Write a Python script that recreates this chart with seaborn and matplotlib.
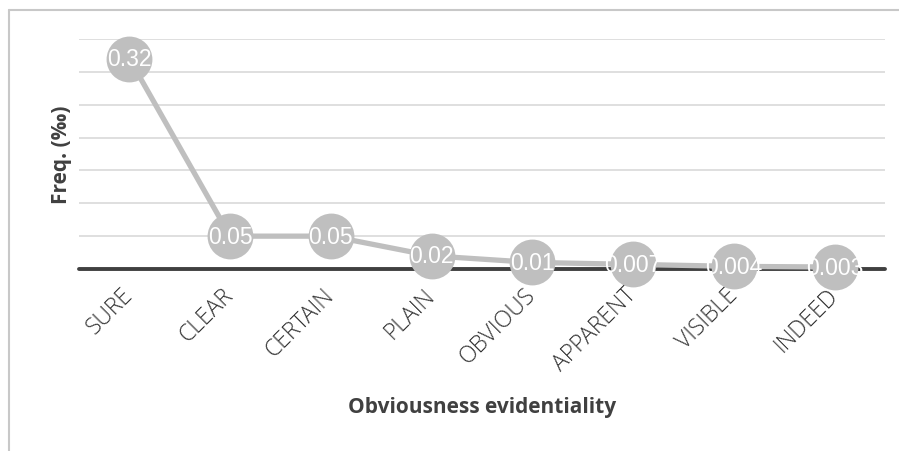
import matplotlib
matplotlib.use("Agg")
import matplotlib.pyplot as plt
import seaborn as sns
import pandas as pd

# Relative frequency (per mille) of each obviousness evidential
categories = ["SURE", "CLEAR", "CERTAIN", "PLAIN", "OBVIOUS", "APPARENT", "VISIBLE", "INDEED"]
freq = [0.32, 0.05, 0.05, 0.02, 0.01, 0.007, 0.004, 0.003]
freq_labels = ["0.32", "0.05", "0.05", "0.02", "0.01", "0.007", "0.004", "0.003"]
grid_steps = [0.05, 0.10, 0.15, 0.20, 0.25, 0.30, 0.35]

sns.set_theme(style="white")
plt.rcParams["font.family"] = ["Open Sans", "DejaVu Sans"]

df = pd.DataFrame({"word": categories, "freq": freq, "pos": range(len(categories))})

fig = plt.figure(figsize=(8.99, 4.52), dpi=100)
ax = fig.add_axes([79 / 899, 1 - 270 / 452, (885 - 79) / 899, 230 / 452])

line_grey = "#bfbfbf"
sns.lineplot(data=df, x="pos", y="freq", ax=ax, color=line_grey, linewidth=3.8,
             marker="o", markersize=33, markeredgewidth=0, zorder=3)
for ln in ax.lines:
    ln.set_clip_on(False)

for x, y, lab in zip(df["pos"], freq, freq_labels):
    ax.text(x, y, lab, color="white", fontsize=16.5, ha="center", va="center",
            family=["Liberation Sans", "DejaVu Sans"], zorder=4)

# horizontal gridlines and the zero baseline
for g in grid_steps:
    ax.axhline(g, color="#d9d9d9", linewidth=1.2, zorder=1)
ax.axhline(0, color="#404040", linewidth=2.8, zorder=2, clip_on=False)

ax.set_xlim(-0.5, len(categories) - 0.5)
ax.set_ylim(0, 0.35)
ax.set_yticks([])
ax.set_xticks(list(df["pos"]))
ax.set_xticklabels(categories, rotation=45, ha="right", va="center",
                   rotation_mode="anchor", fontsize=16.5, color="#333333",
                   fontweight="light")
ax.tick_params(axis="x", length=0, pad=16)
for s in ax.spines.values():
    s.set_visible(False)

ax.set_xlabel("Obviousness evidentiality", fontsize=15, fontweight="bold", color="#404040")
ax.set_ylabel("Freq. (‰)", fontsize=15, fontweight="bold", color="#404040")
ax.xaxis.set_label_coords(0.5, (270 - 397) / 230)
ax.yaxis.set_label_coords((72 - 79) / 806, 0.5)

# chart frame (top and left edges)
fig.add_artist(plt.Line2D([8.5 / 899, 8.5 / 899], [0, 1 - 10.5 / 452],
                          transform=fig.transFigure, color="#c8c8c8", linewidth=1.5))
fig.add_artist(plt.Line2D([8.5 / 899, 1], [1 - 10.5 / 452, 1 - 10.5 / 452],
                          transform=fig.transFigure, color="#c8c8c8", linewidth=1.5))

fig.savefig("out.png", dpi=100, facecolor="white")
